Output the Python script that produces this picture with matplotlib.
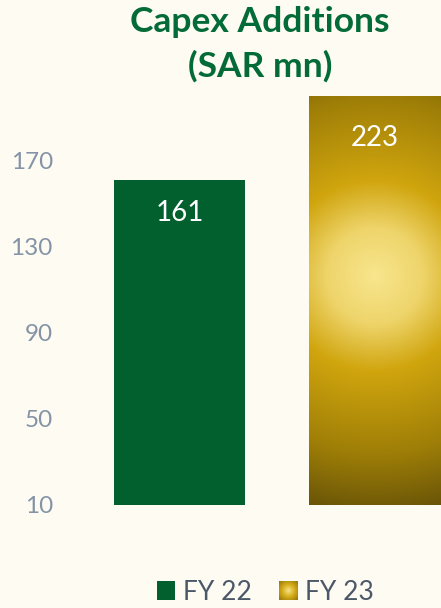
import matplotlib
matplotlib.use("Agg")
import matplotlib.pyplot as plt
import numpy as np
from matplotlib.colors import LinearSegmentedColormap
from matplotlib.patches import Patch

# capex additions, SAR mn
years = ["FY 22", "FY 23"]
capex = [161, 223]
yticks = [10, 50, 90, 130, 170]

BG = "#fefbf3"
GREEN = "#025f2e"
TITLE_GREEN = "#036b37"
TICK_GREY = "#8494a6"
LEGEND_GREY = "#4b5868"

plt.rcParams["font.family"] = ["Lato", "DejaVu Sans"]

gold_cmap = LinearSegmentedColormap.from_list(
    "gold", [(0.0, "#f8e68e"), (0.20, "#eed46a"), (0.40, "#d0a50e"),
             (0.75, "#9e7e07"), (1.0, "#6a5507")])
key_cmap = LinearSegmentedColormap.from_list(
    "goldkey", [(0.0, "#f6e28a"), (0.45, "#d8b01c"), (1.0, "#947406")])

fig = plt.figure(figsize=(4.41, 6.08), dpi=100, facecolor=BG)
ax = fig.add_axes([82 / 441, 1 - 504.5 / 608, 1 - 82 / 441, 408.5 / 608])
ax.set_facecolor(BG)

x = np.arange(len(years))
bars = ax.bar(x, [v - 10 for v in capex], bottom=10, width=0.672,
              color=[GREEN, "none"], linewidth=0)
ax.set_xlim(-0.5, 1.341)
ax.set_ylim(10, 200)

# radial gold fill for the FY 23 bar (axes clip cuts it at the top)
gold = bars[1]
x0, w = gold.get_x(), gold.get_width()
y0, h = gold.get_y(), gold.get_height()
px_x = ax.bbox.width / (ax.get_xlim()[1] - ax.get_xlim()[0])
px_y = ax.bbox.height / (ax.get_ylim()[1] - ax.get_ylim()[0])
gx = np.linspace(x0, x0 + w, 200)
gy = np.linspace(y0, y0 + h, 600)
GX, GY = np.meshgrid(gx, gy)
dx = (GX - (x0 + w / 2)) * px_x
dy = (GY - (y0 + h / 2)) * px_y
r = np.hypot(dx, dy)
r = r / np.hypot(w / 2 * px_x, h / 2 * px_y)
ax.imshow(r, cmap=gold_cmap, vmin=0, vmax=1, origin="lower",
          extent=[x0, x0 + w, y0, y0 + h], aspect="auto",
          interpolation="bilinear", zorder=2)
ax.set_xlim(-0.5, 1.341)
ax.set_ylim(10, 200)

# value labels inside the bars
ax.text(x[0], capex[0] - 15.5, str(capex[0]), ha="center", va="center",
        color="white", fontsize=20, zorder=3)
ax.text(x[1], 10 + (504.5 - 138) / 2.15, str(capex[1]), ha="center",
        va="center", color="white", fontsize=20, zorder=3)

ax.set_yticks(yticks)
ax.set_yticklabels([str(t) for t in yticks], color=TICK_GREY, fontsize=17.5)
ax.tick_params(axis="y", length=0, pad=21)
ax.set_xticks([])
for s in ax.spines.values():
    s.set_visible(False)

fig.text(0.59, 1 - 22 / 608, "Capex Additions", ha="center", va="center",
         fontsize=25.5, fontweight="bold", color=TITLE_GREEN)
fig.text(0.59, 1 - 66 / 608, "(SAR mn)", ha="center", va="center",
         fontsize=25.5, fontweight="bold", color=TITLE_GREEN)

handles = [Patch(facecolor=GREEN, edgecolor="none"),
           Patch(facecolor="#d6b12a", edgecolor="none")]
leg = fig.legend(handles, years, loc="center", bbox_to_anchor=(0.602, 1 - 592 / 608),
                 ncol=2, frameon=False, fontsize=19, labelcolor=LEGEND_GREY,
                 handlelength=0.7, handleheight=0.7, handletextpad=0.3,
                 columnspacing=1.0)

# gradient square on the FY 23 legend key
fig.canvas.draw()
bb = leg.legend_handles[1].get_window_extent(fig.canvas.get_renderer())
bb = bb.transformed(fig.transFigure.inverted())
kax = fig.add_axes([bb.x0, bb.y0, bb.width, bb.height], zorder=10)
kx, ky = np.meshgrid(np.linspace(-1, 1, 60), np.linspace(-1, 1, 60))
kax.imshow(np.hypot(kx, ky) / np.sqrt(2), cmap=key_cmap, vmin=0, vmax=1,
           aspect="auto", interpolation="bilinear")
kax.axis("off")

fig.savefig("out.png", dpi=100, facecolor=BG)
